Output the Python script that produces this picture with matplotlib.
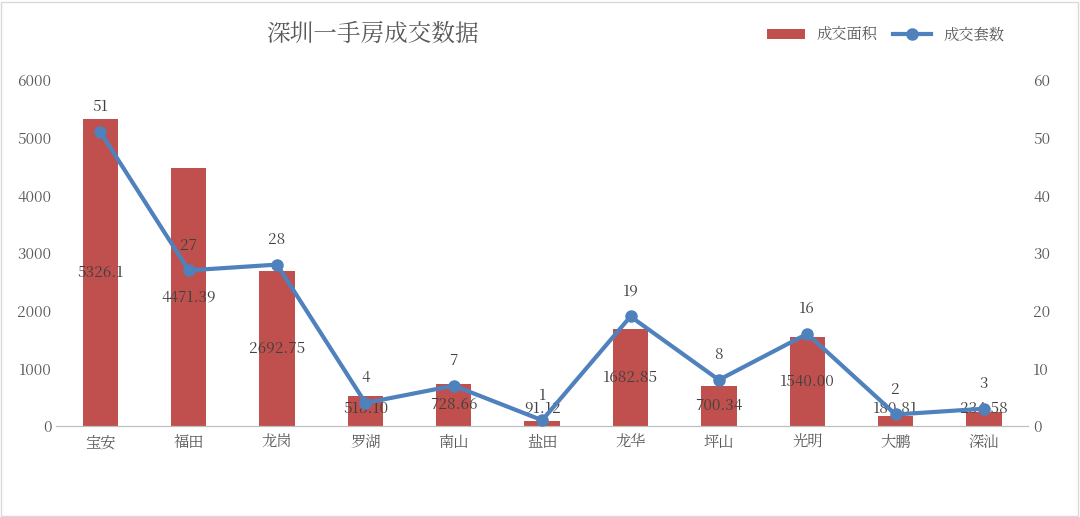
import matplotlib
matplotlib.use("Agg")
import matplotlib.pyplot as plt
from matplotlib import font_manager as fm
from matplotlib.patches import Rectangle

cjk = None
for f in fm.findSystemFonts():
    if 'CJK' in f or 'cjk' in f.lower():
        try:
            fm.fontManager.addfont(f)
        except Exception:
            pass
names = [f.name for f in fm.fontManager.ttflist if 'CJK' in f.name]
pref = [n for n in names if n.endswith('SC')] or names
cjk = pref[0] if pref else 'Noto Sans CJK SC'
plt.rcParams['font.family'] = 'sans-serif'
plt.rcParams['font.sans-serif'] = [cjk, 'DejaVu Sans']

districts = ["宝安", "福田", "龙岗", "罗湖", "南山", "盐田", "龙华", "坪山", "光明", "大鹏", "深汕"]
area = [5326.1, 4471.39, 2692.75, 518.10, 728.66, 91.12, 1682.85, 700.34, 1540.00, 180.81, 234.58]
area_labels = ["5326.1", "4471.39", "2692.75", "518.10", "728.66", "91.12", "1682.85", "700.34", "1540.00", "180.81", "234.58"]
units = [51, 27, 28, 4, 7, 1, 19, 8, 16, 2, 3]

fig = plt.figure(figsize=(10.8, 5.17), dpi=100)
fig.patches.append(Rectangle((0.001, 0.002), 0.997, 0.995, transform=fig.transFigure,
                             fill=False, edgecolor='#D9D9D9', linewidth=1))
ax = fig.add_axes([0.052, 0.176, 0.900, 0.669])
ax2 = ax.twinx()
x = list(range(len(districts)))
ax.bar(x, area, width=0.4, color='#C0504D', label='成交面积', zorder=2)
ax.set_ylim(0, 6000)
ax.set_yticks(range(0, 6001, 1000))
ax.set_xlim(-0.5, len(districts) - 0.5)
ax.set_xticks(x)
ax.set_xticklabels(districts)
for i, v in enumerate(area):
    ax.text(i, max(v / 2, 300), area_labels[i], ha='center', va='center', fontsize=11, color='#404040', zorder=5)

ax2.plot(x, units, color='#4F81BD', linewidth=3, marker='o', markersize=8, label='成交套数', zorder=3)
ax2.set_ylim(0, 60)
ax2.set_yticks(range(0, 61, 10))
for i, v in enumerate(units):
    ax2.annotate(str(v), (i, v), xytext=(0, 12), textcoords='offset points', ha='center', va='bottom',
                 fontsize=11, color='#404040')

for a in (ax, ax2):
    for s in ('top', 'left', 'right'):
        a.spines[s].set_visible(False)
    a.spines['bottom'].set_color('#BFBFBF')
    a.tick_params(length=0, labelsize=11, colors='#595959')
ax.tick_params(axis='x', labelsize=11, pad=6)

fig.text(0.345, 0.935, "深圳一手房成交数据", ha='center', va='center', fontsize=17, color='#595959')
h1, l1 = ax.get_legend_handles_labels()
h2, l2 = ax2.get_legend_handles_labels()
fig.legend(h1 + h2, l1 + l2, loc='center', bbox_to_anchor=(0.82, 0.932), ncol=2, frameon=False,
           fontsize=11, labelcolor='#595959', handlelength=2.5, columnspacing=1.0)
fig.savefig("out.png", dpi=100)
